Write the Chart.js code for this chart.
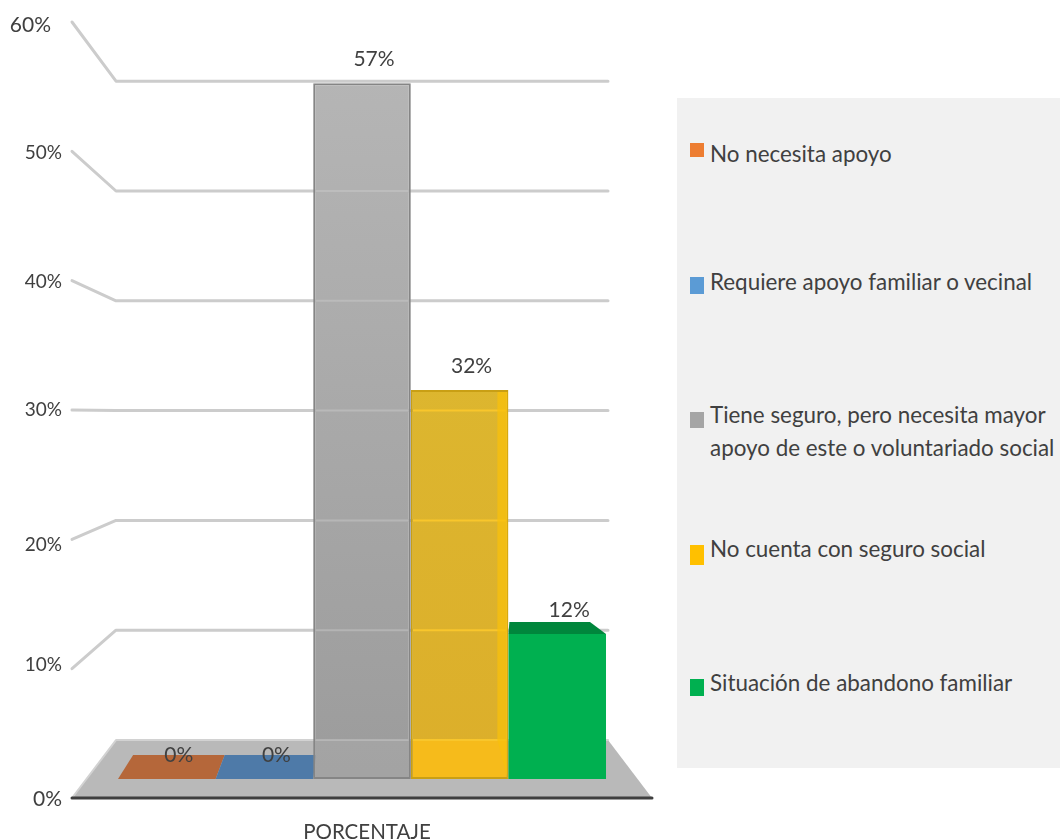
<!DOCTYPE html>
<html lang="es">
<head>
<meta charset="utf-8">
<title>Porcentaje</title>
<script src="https://cdn.jsdelivr.net/npm/chart.js@4"></script>
<style>
  html, body { margin: 0; padding: 0; background: #fff; }
  #wrap { position: relative; width: 1060px; height: 839px; overflow: hidden; }
  #myChart { position: absolute; left: 0; top: 0; }
  #legend_box { position: absolute; left: 677px; top: 98px; width: 383px; height: 670px; background: #f1f1f1; }
  .swatch { position: absolute; left: 13px; width: 14px; }
  .legend_text {
    position: absolute; left: 33px; white-space: pre;
    font: 22.4px/33px Lato, sans-serif; color: #404040;
  }
</style>
</head>
<body>
<div id="wrap">
  <canvas id="myChart" width="1060" height="839"></canvas>
  <div id="legend_box"></div>
</div>
<script>
// ----------- DATA ------------
const categories = ['PORCENTAJE'];
const series_names = [
  'No necesita apoyo',
  'Requiere apoyo familiar o vecinal',
  'Tiene seguro, pero necesita mayor\napoyo de este o voluntariado social',
  'No cuenta con seguro social',
  'Situación de abandono familiar'
];
const series_values = [0, 0, 56.9, 31.8, 11.85];
const series_colors = ['#ed7d31', '#5b9bd5', '#a5a5a5', '#ffc000', '#00b050'];
const y_ticks = [0, 10, 20, 30, 40, 50, 60];

// ----------- LAYOUT ------------
const text_color = '#404040';
const font_name = 'Lato, sans-serif';
const wall_color = '#cccccc';
const depth_x = 44;                   // how far the back wall sits from the front edge
// y axis labels: [x nudge, y nudge, font size], the reference does not space them evenly
const tick_style = { 0: [0, 1, 21], 10: [0, -4, 19], 20: [0, 6, 19], 30: [0, 0, 19], 40: [0, 1, 19], 50: [0, 2, 19], 60: [-11, 3, 21] };
const legend_rows = [
  { box_top: 45, box_h: 14, text_top: 39 },
  { box_top: 179, box_h: 17, text_top: 167 },
  { box_top: 314, box_h: 16, text_top: 300 },
  { box_top: 447, box_h: 20, text_top: 434 },
  { box_top: 581, box_h: 17, text_top: 568 }
];

// ----------- HELPER FUNCTION -----------
function polygon(ctx, points, fill){
  ctx.beginPath();
  points.forEach((p, i) => i ? ctx.lineTo(p[0], p[1]) : ctx.moveTo(p[0], p[1]));
  ctx.closePath();
  ctx.fillStyle = fill;
  ctx.fill();
}

function bar_fill(context, top_color, bottom_color){
  const area = context.chart.chartArea;
  if(!area) return bottom_color;
  const g = context.chart.ctx.createLinearGradient(0, area.top, 0, area.bottom);
  g.addColorStop(0, top_color);
  g.addColorStop(1, bottom_color);
  return g;
}

function bar_of(chart, i){
  return chart.getDatasetMeta(i).data[0];
}

// floor, back wall and flat plates of the zero bars
const scene_plugin = {
  id: 'scene_plugin',
  beforeDatasetsDraw(chart){
    const ctx = chart.ctx;
    const area = chart.chartArea;
    const front = chart.scales.y;
    const back = chart.scales.y_back;
    const floor_back = back.getPixelForValue(0);
    const floor_front = front.getPixelForValue(0);
    const back_left = area.left + depth_x;
    const back_right = area.right - depth_x;

    ctx.save();
    ctx.lineJoin = 'round';
    ctx.lineCap = 'round';

    polygon(ctx, [[area.left, floor_front], [back_left, floor_back], [back_right, floor_back], [area.right, floor_front]], '#b9b9b9');
    ctx.strokeStyle = '#d2d2d2';
    ctx.lineWidth = 2;
    ctx.beginPath();
    ctx.moveTo(area.left, floor_front);
    ctx.lineTo(back_left, floor_back);
    ctx.lineTo(back_right, floor_back);
    ctx.stroke();

    ctx.strokeStyle = wall_color;
    ctx.lineWidth = 3;
    y_ticks.filter(v => v > 0).forEach((v) => {
      ctx.beginPath();
      ctx.moveTo(area.left, front.getPixelForValue(v));
      ctx.lineTo(back_left, back.getPixelForValue(v));
      ctx.lineTo(back_right, back.getPixelForValue(v));
      ctx.stroke();
    });

    ctx.strokeStyle = '#3f3f3f';
    ctx.lineWidth = 3;
    ctx.beginPath();
    ctx.moveTo(area.left, floor_front);
    ctx.lineTo(area.right, floor_front);
    ctx.stroke();

    // zero bars lie flat on the floor
    const plate_colors = ['#b5673a', '#4e7aa8'];
    const centre = (area.left + area.right) / 2;
    const y0 = chart.scales.y_bar.getPixelForValue(0);
    plate_colors.forEach((color, i) => {
      const b = bar_of(chart, i);
      const l = b.x - b.width / 2;
      const r = b.x + b.width / 2;
      polygon(ctx, [[l, y0], [l + (centre - l) * 0.062, y0 - 24], [r + (centre - r) * 0.062, y0 - 24], [r, y0]], color);
    });
    ctx.restore();
  },
  afterDatasetsDraw(chart){
    const ctx = chart.ctx;
    const back = chart.scales.y_back;
    const y0 = chart.scales.y_bar.getPixelForValue(0);
    const floor_back = back.getPixelForValue(0);

    // what shows through the glassy gray and yellow bars
    const see_through = [
      { i: 2, floor: 'rgba(190,190,190,0.22)', line: 'rgba(205,205,205,0.45)' },
      { i: 3, floor: '#f6bb1b', line: '#f8c62c' }
    ];
    see_through.forEach((s) => {
      const b = bar_of(chart, s.i);
      const l = b.x - b.width / 2 + 2;
      const r = b.x + b.width / 2 - 2;
      ctx.save();
      ctx.beginPath();
      ctx.rect(l, b.y + 2, r - l, y0 - b.y - 4);
      ctx.clip();
      ctx.fillStyle = s.floor;
      ctx.fillRect(l, floor_back, r - l, y0 - floor_back);
      ctx.strokeStyle = s.line;
      ctx.lineWidth = 2;
      y_ticks.forEach((v) => {
        const y = back.getPixelForValue(v);
        ctx.beginPath();
        ctx.moveTo(l, y);
        ctx.lineTo(r, y);
        ctx.stroke();
      });
      ctx.restore();
    });

    // right side of the yellow bar
    const yb = bar_of(chart, 3);
    const yr = yb.x + yb.width / 2 - 1;
    polygon(ctx, [[yr - 10, yb.y + 2], [yr, yb.y + 2], [yr, y0], [yr - 10, floor_back]], 'rgba(248,192,12,0.75)');

    // top of the green bar
    const gb = bar_of(chart, 4);
    const gl = gb.x - gb.width / 2;
    const gr = gb.x + gb.width / 2;
    polygon(ctx, [[gl, gb.y], [gl + 1, gb.y - 12], [gr - 16, gb.y - 12], [gr, gb.y]], '#00863c');

    // value labels sit a bit to the right of each bar centre
    ctx.save();
    ctx.font = '21px ' + font_name;
    ctx.fillStyle = text_color;
    ctx.textAlign = 'center';
    ctx.textBaseline = 'middle';
    series_values.forEach((v, i) => {
      const b = bar_of(chart, i);
      ctx.fillText(Math.round(v) + '%', b.x + 12, b.y - 24);
    });

    // y axis labels
    ctx.textAlign = 'right';
    chart.scales.y.ticks.forEach((t) => {
      const style = tick_style[t.value];
      ctx.font = style[2] + 'px ' + font_name;
      ctx.fillText(t.value + '%', chart.chartArea.left - 10 + style[0], chart.scales.y.getPixelForValue(t.value) + style[1]);
    });
    ctx.restore();
  }
};

// ----------- INITIALIZATION ------------
function chart_layout(){
  const bar_style = [
    { backgroundColor: series_colors[0], borderWidth: 0 },
    { backgroundColor: series_colors[1], borderWidth: 0 },
    { backgroundColor: (c) => bar_fill(c, '#b7b7b7', '#9b9b9b'), borderColor: '#858585', borderWidth: 2, borderSkipped: false },
    { backgroundColor: (c) => bar_fill(c, '#ddbd33', '#dcae2a'), borderColor: '#c99f14', borderWidth: 2, borderSkipped: false },
    { backgroundColor: series_colors[4], borderWidth: 0 }
  ];

  new Chart(document.getElementById('myChart'), {
    type: 'bar',
    data: {
      labels: categories,
      datasets: series_names.map((name, i) => ({
        label: name,
        data: [series_values[i]],
        yAxisID: 'y_bar',
        ...bar_style[i]
      }))
    },
    options: {
      responsive: false,
      animation: false,
      barPercentage: 1,
      categoryPercentage: 0.8414,
      layout: { padding: { left: 72, right: 408, top: 22, bottom: 0 } },
      plugins: { legend: { display: false }, tooltip: { enabled: false } },
      scales: {
        x: {
          grid: { display: false },
          border: { display: false },
          ticks: { color: text_color, font: { family: font_name, size: 20.5 }, padding: 14, labelOffset: 5 },
          afterFit: (scale) => { scale.height = 41; }
        },
        // front edge of the side wall, carries the tick labels
        y: {
          min: 0, max: 60,
          afterBuildTicks: (scale) => { scale.ticks = y_ticks.map(v => ({ value: v })); },
          grid: { display: false },
          border: { display: false },
          ticks: { display: false },
          afterFit: (scale) => { scale.width = 0; }
        },
        // plane the bars stand on
        y_bar: { display: false, min: -1.5536, max: 61.9 },
        // back wall
        y_back: { display: false, min: -5.28, max: 65.39 }
      }
    },
    plugins: [scene_plugin]
  });
}

function legend_layout(){
  const box = document.getElementById('legend_box');
  series_names.forEach((name, i) => {
    const swatch = document.createElement('div');
    swatch.className = 'swatch';
    swatch.style.top = legend_rows[i].box_top + 'px';
    swatch.style.height = legend_rows[i].box_h + 'px';
    swatch.style.background = series_colors[i];
    box.appendChild(swatch);

    const text = document.createElement('div');
    text.className = 'legend_text';
    text.style.top = legend_rows[i].text_top + 'px';
    text.textContent = name;
    box.appendChild(text);
  });
}

// ----------- MAIN FUNCTION ------------
function main(){
  legend_layout();
  chart_layout();
}

document.addEventListener('DOMContentLoaded', function() {
  main()
});
</script>
</body>
</html>
